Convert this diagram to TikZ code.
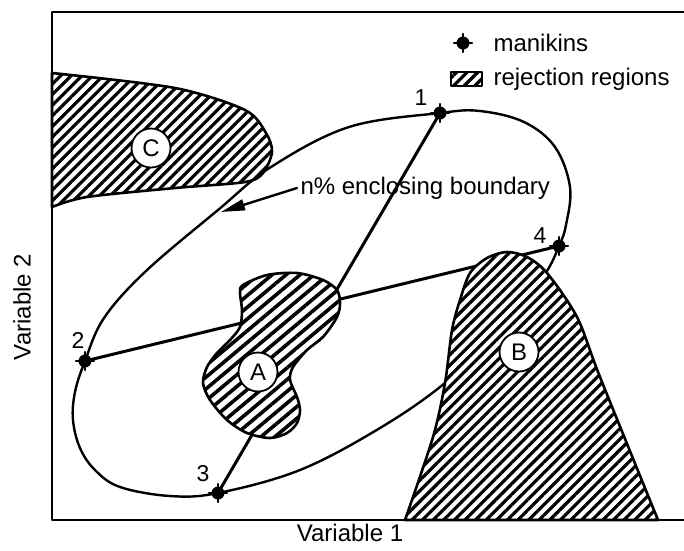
\documentclass[tikz,border=0pt]{standalone}
\usepackage{fontspec}
\setmainfont{Liberation Sans}
\usetikzlibrary{arrows.meta,patterns.meta}

\begin{document}
\begin{tikzpicture}[x=1pt, y=-1pt, line join=round, line cap=round, >=Stealth,
  every node/.append style={font=\fontsize{24}{28}\selectfont},
  hatch/.style={preaction={fill=white}, pattern={Lines[angle=45,distance=7.5pt,line width=3.2pt]}, line width=2.6pt},
  widehatch/.style={preaction={fill=white}, pattern={Lines[angle=40,distance=9pt,line width=3.6pt]}, line width=2.6pt},
  manikin/.style={circle, fill, inner sep=0pt, minimum size=13pt},
  tag/.style={circle, draw, fill=white, line width=1.8pt, inner sep=0pt, minimum size=39pt, font=\fontsize{24}{24}\selectfont},
  num/.style={font=\fontsize{23}{23}\selectfont}]
  \useasboundingbox (0,0) rectangle (684,550);
  \draw[line width=2.8pt] (684,12) -- (52,12) -- (52,520) -- (684,520);
  \node[manikin] (m1) at (440,113) {};
  \node[manikin] (m2) at (85,361) {};
  \node[manikin] (m3) at (218,493) {};
  \node[manikin] (m4) at (559,246) {};
  \draw[line width=2.4pt] plot[smooth cycle, tension=0.6] coordinates {(m1.center) (480,111) (524,122) (555,147) (570,187) (566,225) (m4.center) (543,277) (500,330) (445,383) (380,428) (300,470) (m3.center) (170,496) (120,487) (95,470) (80,448) (73,420) (75,392) (m2.center) (104,318) (146,271) (218,210) (271,167) (349,127)};
  \draw[line width=3pt] (m1.center) -- (m3.center);
  \draw[line width=3pt] (m2.center) -- (m4.center);
  \draw[widehatch] plot[smooth cycle] coordinates {(243,285) (267,275) (297,273) (323,280) (337,290) (340,303) (337,317) (323,337) (307,350) (293,367) (290,380) (297,397) (300,410) (297,423) (287,433) (270,438) (247,433) (227,420) (210,400) (203,383) (207,367) (217,353) (230,340) (240,327) (242,310) (240,293)};
  \draw[hatch] plot[smooth] coordinates {(405,520) (433,437) (445,383) (452,330) (460,300) (470,273) (487,258) (507,252) (527,257) (547,273) (577,317) (600,377) (658,520)} -- cycle;
  \draw[hatch] plot[smooth] coordinates {(52,73) (175,88) (245,110) (266,133) (272,152) (263,173) (245,182) (175,188) (87,197) (52,207)} -- cycle;
  \node[tag] (tA) at (258,372) {A};
  \node[tag] (tB) at (519,352) {B};
  \node[tag] (tC) at (151,148) {C};
  \foreach \m in {m1,m2,m3,m4}
    \draw[line width=2.4pt] ([xshift=-9pt]\m.center) -- ([xshift=9pt]\m.center) ([yshift=-9pt]\m.center) -- ([yshift=9pt]\m.center);
  \node[num] (n1) at (421,98) {1};
  \node[num] (n2) at (78,340) {2};
  \node[num] (n3) at (203,474) {3};
  \node[num] (n4) at (540,236) {4};
  \node[manikin] (mk) at (463,43) {};
  \draw[line width=2.4pt] ([xshift=-9pt]mk.center) -- ([xshift=9pt]mk.center) ([yshift=-9pt]mk.center) -- ([yshift=9pt]mk.center);
  \node[anchor=west] (lm) at (490,43) {manikins};
  \draw[hatch, line width=1.8pt] (451,72) rectangle (482,86);
  \node[anchor=west] (lr) at (490,79) {rejection regions};
  \node[anchor=west] (txt) at (297,188) {n\% enclosing boundary};
  \coordinate (tip) at (221,212);
  \draw[line width=2.4pt, -{Triangle[length=24pt,width=11pt]}] (txt.west) -- (tip);
  \node (xl) at (350,533) {Variable 1};
  \node[rotate=90] (yl) at (22,307) {Variable 2};
\end{tikzpicture}
\end{document}
